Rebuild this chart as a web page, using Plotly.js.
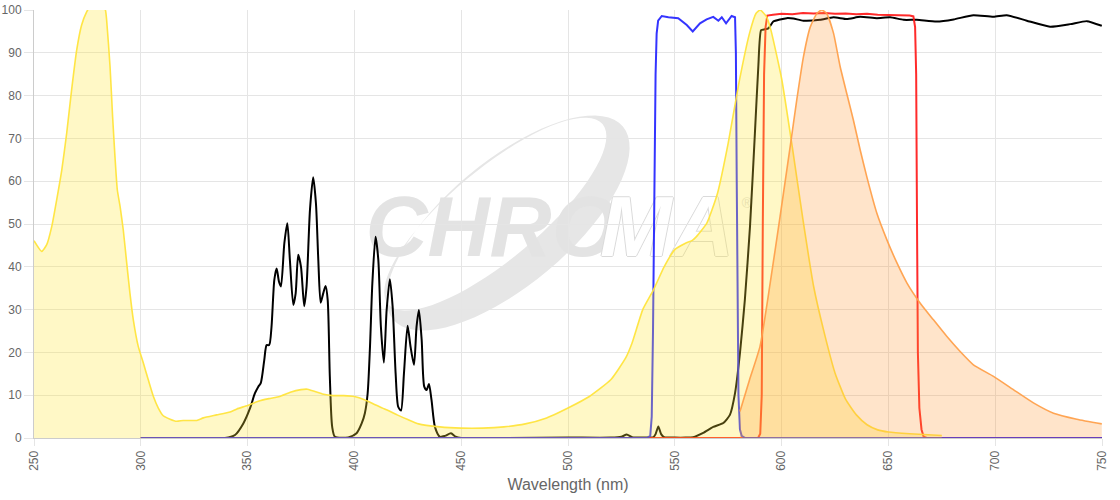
<!DOCTYPE html>
<html>
<head>
<meta charset="utf-8">
<script src="https://cdn.plot.ly/plotly-3.0.1.min.js"></script>
<style>html,body{margin:0;padding:0;background:#fff;}#chart{width:1120px;height:500px;}</style>
</head>
<body>
<div id="chart"></div>
<script>
// ---- Data ----
const excX = [250,253.6,255.9,258.3,260.6,263,265.3,267.6,270,272.3,274.7,276.5,279,281.5,283.4,284,285.6,286.8,287.9,289,290.3,291.8,293.4,294.9,296.5,298.8,301.2,303.5,305.9,308.2,310.5,313.7,316.8,319.9,326.2,329.3,335.5,341.8,345,350,355,360,365,370,375,378,380,385,390,395,400,405,410,415,420,425,430,440,450,460,470,480,490,495,500,510,520,527,530,535,540,545,550,555,558,560,565,570,575,580,585,588,590,593,595,600,605,610,615,620,625,630,635,640,645,650,660,675];
const excY = [46.1,43.6,45.1,49.4,55.6,62.6,71.2,81.3,90.7,96.5,99.6,101,102,101,100,97.7,86.8,75.1,65.8,58,54.1,48.6,40.9,33.9,27.6,21.4,17.5,13.6,9.7,7,5.2,4.4,3.9,4.1,4.1,4.7,5.4,6.1,6.8,7.6,8.6,9.2,9.7,10.7,11.3,11.4,11.1,10.3,9.9,9.9,9.7,8.9,7.7,6.6,5.4,4.3,3.3,2.6,2.3,2.3,2.6,3.3,4.7,5.8,7,9.7,13.6,18.7,22.2,30,34.6,40,44,45.5,46.1,47,50.2,57.2,68.9,82.9,94.6,99.2,100,98.4,95.3,84,68,51,35.4,24.5,15.2,9,5.4,3.1,1.9,1.4,1.0,0.6];

const emX = [580.5,585,589.9,594.6,599.3,604,607.1,610.2,613.4,616.5,618.8,621.1,624.3,627.4,630.5,633.6,636.8,639.9,644.6,649.3,654,658.7,664.9,671.1,677.4,683.6,689.8,699.2,708.5,717.9,727.3,738.2,749.9];
const emY = [6.2,13.6,21.4,36,51.8,68,79,89,96,99.2,100,99.2,94.6,86.8,80.5,74.3,67.3,61,52.5,46.3,40.9,36.2,31.5,27.6,23.7,20.2,17.1,14.4,11.3,8.2,5.8,4.4,3.3];

const lampX = [300,339.4,344.1,348,351.1,353.4,355,356.2,357.8,358.9,360.1,361.2,362.5,363.6,364.7,365.6,367.2,368.6,369.8,371.4,372.5,373.7,375,376.5,377.6,379.2,380.7,382,383.1,384.2,385.4,386.5,387.5,388.5,389.6,390.9,397.1,401,403.4,404.9,406.2,407.3,408.4,409.9,411.2,412.4,413.8,415.1,416.6,417.9,419.3,420.5,421.8,423.2,424.9,426.3,427.9,429.1,430.2,431.5,432.7,433.8,434.9,436.1,437.7,440,442.4,445.2,447.4,450,470];
const lampY = [0,0,0.7,3.4,6.9,10.4,12,12.9,18.2,21.7,21.7,26,36.9,39.6,36.5,35.4,45.5,50.2,41.6,31.1,33.8,42.8,40,30.8,35.4,53.3,60.9,54.8,41.6,31.6,33.8,35.5,32.2,14.3,2.6,0.3,0.15,1.1,3.4,5.8,10.4,21.3,36.1,47,41.6,26,17.6,29.9,37.1,30.7,15.1,7.3,6.4,15.1,26.2,21.3,17.1,26,29.9,22.9,12,11.2,12.6,8.9,2.6,0.3,0.5,1.1,0.3,0,0];

const dichX = [470,500,520,525,527.5,530,535,540,541,542.3,543.6,545,550,555,558.6,563.3,568,572.7,575.8,578.2,580.5,582.8,585.2,587.5,589.1,590.4,592.2,593.8,596.1,599.3,602.4,605.5,610.2,618,624.3,630.5,636.8,644.6,650.8,657.1,663.3,672.6,680.5,689.8,699.2,705.4,714.8,725.7,735.1,742.9,749.9];
const dichY = [0,0.1,0.1,0.3,0.8,0.2,0.1,0.2,0.9,2.7,0.9,0.2,0.1,0.1,0.2,1.2,2.6,3.5,5.4,10.5,19.8,32.3,49.4,71.2,86.8,95.3,95.5,95.7,97.3,97.8,98.1,98,97.5,97.7,98.3,97.9,98.4,98.1,98.3,97.7,97.7,97.3,97.8,98.8,98.4,98.8,97.5,96.1,96.7,97.4,96.3];

const exFiltX = [300,537,538.5,539.2,539.8,540.4,541,541.5,542.2,543.9,547,551.6,555.6,558.4,561.8,564.9,568,570.4,572,574,576.6,578.2,578.6,579,579.4,579.8,580.5,581.3,583,750];
const exFiltY = [0,0,0.5,5,25,63,85,94.5,97.5,98.6,98.3,98.1,96.5,95,96.9,97.8,98.4,97.5,98.3,96.9,98.6,98.3,90,60,30,10,2,0.5,0,0];

const emFiltX = [300,589,590,590.7,591.2,591.8,592.5,593.3,596,600,605,610,615,620,625,630,635,640,645,650,655,660,661.7,662.5,663,663.4,663.8,664.5,665.5,666.5,668,750];
const emFiltY = [0,0,1,10,50,85,96,98.7,98.9,99.1,99,99.3,99.2,99.3,99.1,99.2,99,99.1,98.9,98.9,98.8,98.7,98.5,96,85,50,20,7,2,0.3,0,0];

const xTicks = [250,300,350,400,450,500,550,600,650,700,750];
const yTicks = [0,10,20,30,40,50,60,70,80,90,100];

// ---- Traces ----
const traces = [
  {x: lampX, y: lampY, type:'scatter', mode:'lines', line:{color:'#000000', width:2, shape:'spline', smoothing:0.7}, hoverinfo:'skip', showlegend:false},
  {x: dichX, y: dichY, type:'scatter', mode:'lines', line:{color:'#000000', width:2, shape:'spline', smoothing:0.5}, hoverinfo:'skip', showlegend:false},
  {x: emFiltX, y: emFiltY, type:'scatter', mode:'lines', line:{color:'rgba(255,20,20,0.9)', width:2}, hoverinfo:'skip', showlegend:false},
  {x: exFiltX, y: exFiltY, type:'scatter', mode:'lines', line:{color:'rgba(30,30,255,0.9)', width:2}, hoverinfo:'skip', showlegend:false},
  {x: excX, y: excY, type:'scatter', mode:'lines', fill:'tozeroy', fillcolor:'rgba(255,230,50,0.28)', line:{color:'rgba(255,228,60,0.95)', width:1.6, shape:'spline', smoothing:0.5}, hoverinfo:'skip', showlegend:false},
  {x: emX, y: emY, type:'scatter', mode:'lines', fill:'tozeroy', fillcolor:'rgba(255,150,50,0.26)', line:{color:'rgba(255,160,75,0.95)', width:1.6, shape:'spline', smoothing:0.5}, hoverinfo:'skip', showlegend:false}
];

// ---- Watermark (decoration) ----
const L = 34, T = 10, W = 1068, H = 428;
function px(xp){ return ((xp - L) / W).toFixed(5); }
function py(yp){ return ((T + H - yp) / H).toFixed(5); }
function ellipsePath(cx, cy, a, b, angDeg){
  const t = angDeg*Math.PI/180;
  const ux = Math.cos(t), uy = -Math.sin(t), vx = -Math.sin(t), vy = -Math.cos(t);
  let s = '';
  for (let i=0;i<=72;i++){
    const th = i/72*2*Math.PI;
    const X = cx + a*Math.cos(th)*ux + b*Math.sin(th)*vx;
    const Y = cy + a*Math.cos(th)*uy + b*Math.sin(th)*vy;
    s += (i===0?'M':'L') + px(X) + ',' + py(Y) + ' ';
  }
  return s + 'Z ';
}
const ang = 40, t0 = ang*Math.PI/180;
const vX = -Math.sin(t0), vY = -Math.cos(t0), uX = Math.cos(t0), uY = -Math.sin(t0);
const swoosh = ellipsePath(508, 223, 150, 62, ang) +
               ellipsePath(508 + 15*vX - 4*uX, 223 + 15*vY - 4*uY, 140, 45, ang);

const wmFont = {family:'Liberation Sans, Arial, sans-serif', size:86, weight:'bold', style:'italic'};
const shapes = [
  {type:'path', xref:'paper', yref:'paper', path: swoosh, fillrule:'evenodd', fillcolor:'#e6e6e6', line:{width:0}, layer:'below'},
  {type:'rect', xref:'paper', yref:'paper', x0:px(384), x1:px(600), y0:py(256), y1:py(180), line:{width:0}, fillcolor:'rgba(0,0,0,0)', layer:'below',
   label:{text:'CHRO', textposition:'middle center', font:Object.assign({color:'#e3e3e3'}, wmFont)}},
  {type:'rect', xref:'paper', yref:'paper', x0:px(592), x1:px(742), y0:py(256), y1:py(180), line:{width:0}, fillcolor:'rgba(0,0,0,0)', layer:'below',
   label:{text:'MA', textposition:'middle center', font:Object.assign({color:'#ffffff', shadow:'1px 0 0 #dadada, -1px 0 0 #dadada, 0 1px 0 #dadada, 0 -1px 0 #dadada'}, wmFont)}},
  {type:'rect', xref:'paper', yref:'paper', x0:px(737), x1:px(757), y0:py(212), y1:py(192), line:{width:0}, fillcolor:'rgba(0,0,0,0)', layer:'below',
   label:{text:'®', textposition:'middle center', font:{family:'Liberation Sans, Arial, sans-serif', size:14, color:'#e0e0e0'}}}
];

const gridC = '#e5e5e5';
const layout = {
  width:1120, height:500,
  margin:{l:34, r:18, t:10, b:62},
  paper_bgcolor:'#ffffff', plot_bgcolor:'#ffffff',
  font:{family:'Liberation Sans, Arial, sans-serif', color:'#666666', size:12},
  showlegend:false,
  xaxis:{
    range:[250,750], tickvals:xTicks, ticktext:xTicks.map(String), tickangle:-90,
    showgrid:true, gridcolor:gridC, gridwidth:1, zeroline:false,
    showline:true, linecolor:'#cccccc', linewidth:1, mirror:false,
    ticks:'outside', ticklen:7, tickcolor:gridC, tickfont:{size:12, color:'#666666'},
    title:{text:'Wavelength (nm)', font:{size:16, color:'#666666'}, standoff:8},
    automargin:false, fixedrange:true
  },
  yaxis:{
    range:[0,100], tickvals:yTicks, ticktext:yTicks.map(String),
    showgrid:true, gridcolor:gridC, gridwidth:1, zeroline:false,
    showline:true, linecolor:'#cccccc', linewidth:1,
    ticks:'outside', ticklen:9, tickcolor:gridC, tickfont:{size:12, color:'#666666'},
    automargin:false, fixedrange:true
  },
  shapes: shapes
};

Plotly.newPlot('chart', traces, layout, {displayModeBar:false, staticPlot:true});
</script>
</body>
</html>
